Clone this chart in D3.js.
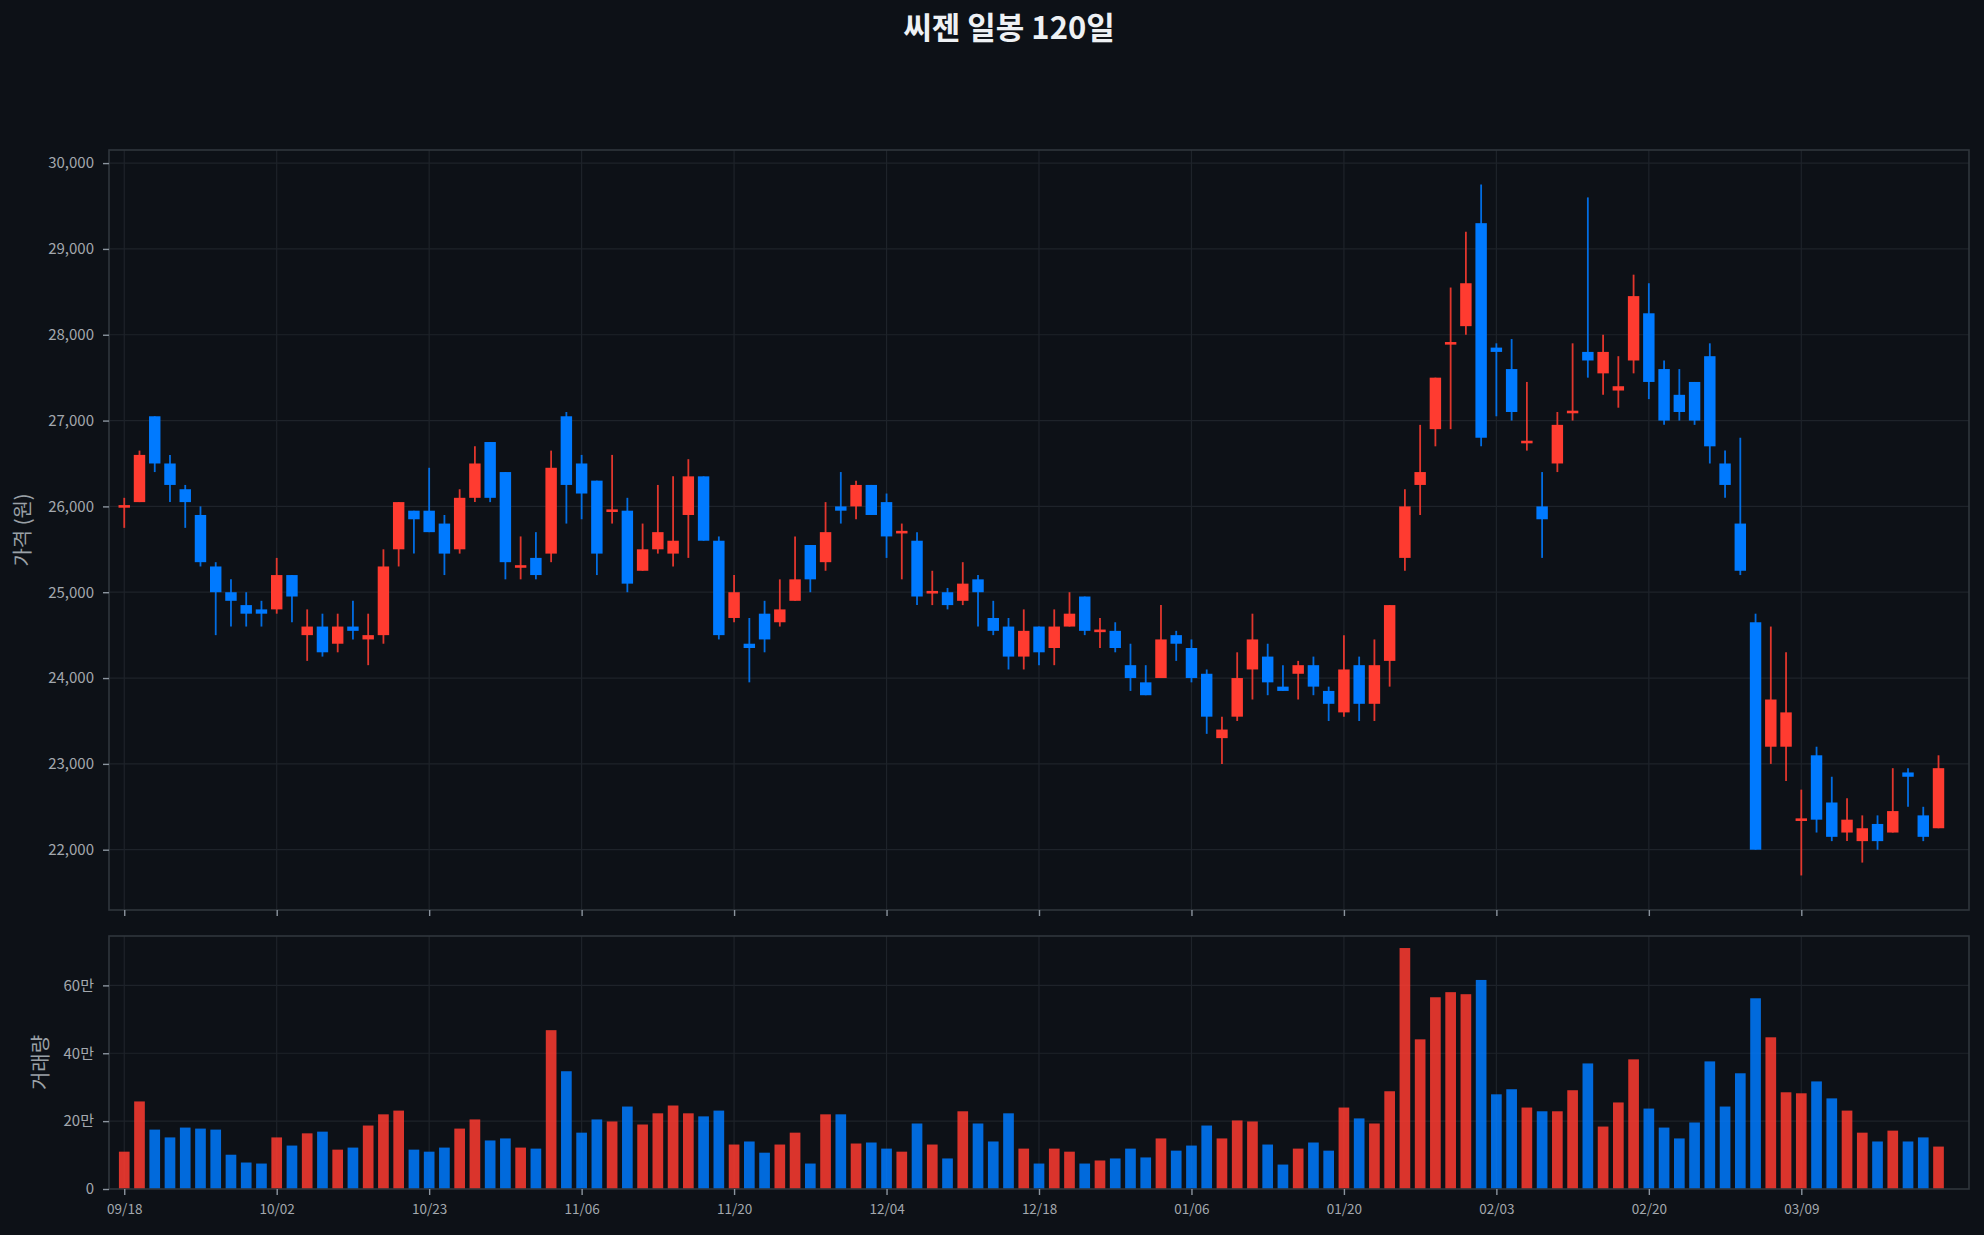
<!DOCTYPE html>
<html><head><meta charset="utf-8">
<script src="https://cdn.jsdelivr.net/npm/d3@7"></script>
<style>
html,body{margin:0;padding:0;background:#0d1117;}
svg{display:block;}
</style></head><body>
<svg id="chart" width="1984" height="1235"></svg>
<script>
const chartTitle = "씨젠 일봉 120일";
const priceLabel = "가격 (원)";
const volumeLabel = "거래량";
const tickLabels = ["09/18","10/02","10/23","11/06","11/20","12/04","12/18","01/06","01/20","02/03","02/20","03/09"];
const tickIndex = [0,10,20,30,40,50,60,70,80,90,100,110];
const priceTicks = [22000,23000,24000,25000,26000,27000,28000,29000,30000];
const volumeTicks = [0,200000,400000,600000];

const opens = [26000,26050,27050,26500,26200,25900,25300,25000,24850,24800,
24800,25200,24500,24600,24400,24600,24450,24500,25500,25950,
25950,25800,25500,26100,26750,26400,25300,25400,25450,27050,
26500,26300,25950,25950,25250,25500,25450,25900,26350,25600,
24700,24400,24750,24650,24900,25550,25350,26000,26000,26250,
26050,25700,25600,25000,25000,24900,25150,24700,24600,24250,
24600,24350,24600,24950,24550,24550,24150,23950,24000,24500,
24350,24050,23300,23550,24100,24250,23900,24050,24150,23850,
23600,24150,23700,24200,25400,26250,26900,27900,28100,29300,
27850,27600,26750,26000,26500,27100,27800,27550,27350,27700,
28250,27600,27300,27450,27750,26500,25800,24650,23200,23200,
22350,23100,22550,22200,22100,22300,22200,22900,22400,22250];
const highs = [26100,26650,27050,26600,26250,26000,25350,25150,25000,24900,
25400,25200,24800,24750,24750,24900,24750,25500,26050,25950,
26450,25900,26200,26700,26750,26400,25650,25700,26650,27100,
26600,26300,26600,26100,25800,26250,26350,26550,26350,25650,
25200,24700,24900,25150,25650,25550,26050,26400,26300,26250,
26150,25800,25700,25250,25050,25350,25200,24900,24700,24800,
24600,24800,25000,24950,24700,24650,24400,24150,24850,24550,
24450,24100,23550,24300,24750,24400,24150,24200,24250,23900,
24500,24250,24450,24850,26200,26950,27500,28550,29200,29750,
27900,27950,27450,26400,27100,27900,29600,28000,27750,28700,
28600,27700,27600,27450,27900,26650,26800,24750,24600,24300,
22700,23200,22850,22600,22400,22400,22950,22950,22500,23100];
const lows = [25750,26050,26400,26050,25750,25300,24500,24600,24600,24600,
24750,24650,24200,24250,24300,24450,24150,24400,25300,25450,
25700,25200,25450,26050,26050,25150,25150,25150,25350,25800,
25850,25200,25800,25000,25250,25450,25300,25400,25600,24450,
24650,23950,24300,24600,24900,25000,25250,25800,25850,25900,
25400,25150,24850,24850,24800,24850,24600,24500,24100,24100,
24150,24150,24600,24500,24350,24300,23850,23800,24000,24200,
23950,23350,23000,23500,23750,23800,23850,23750,23800,23500,
23550,23500,23500,23900,25250,25900,26700,26900,28000,26700,
27050,27000,26650,25400,26400,27000,27500,27300,27150,27550,
27250,26950,27000,26950,26500,26100,25200,22000,23000,22800,
21700,22200,22100,22100,21850,22000,22200,22500,22100,22250];
const closes = [26000,26600,26500,26250,26050,25350,25000,24900,24750,24750,
25200,24950,24600,24300,24600,24550,24500,25300,26050,25850,
25700,25450,26100,26500,26100,25350,25300,25200,26450,26250,
26150,25450,25950,25100,25500,25700,25600,26350,25600,24500,
25000,24350,24450,24800,25150,25150,25700,25950,26250,25900,
25650,25700,24950,25000,24850,25100,25000,24550,24250,24550,
24300,24600,24750,24550,24550,24350,24000,23800,24450,24400,
24000,23550,23400,24000,24450,23950,23850,24150,23900,23700,
24100,23700,24150,24850,26000,26400,27500,27900,28600,26800,
27800,27100,26750,25850,26950,27100,27700,27800,27400,28450,
27450,27000,27100,27000,26700,26250,25250,22000,23750,23600,
22350,22350,22150,22350,22250,22100,22450,22850,22150,22950];
const volumes = [110000,258000,175000,152000,181000,178000,175000,101000,78000,75000,
152000,128000,164000,169000,116000,122000,187000,220000,231000,116000,
110000,122000,178000,205000,143000,149000,122000,119000,468000,347000,
166000,205000,199000,243000,190000,223000,246000,223000,214000,231000,
131000,140000,107000,131000,166000,75000,220000,220000,134000,137000,
119000,110000,193000,131000,90000,229000,193000,140000,223000,119000,
75000,119000,110000,75000,84000,90000,119000,93000,149000,113000,
128000,187000,149000,202000,199000,131000,72000,119000,137000,113000,
240000,208000,193000,288000,710000,441000,565000,580000,574000,616000,
279000,294000,240000,229000,229000,291000,370000,184000,255000,382000,
237000,181000,149000,196000,376000,243000,341000,562000,447000,285000,
282000,317000,267000,231000,166000,140000,172000,140000,152000,125000];

// ---------- layout / style ----------
const W = 1984, H = 1235;
const left = 109, right = 1969;
const pTop = 150, pBot = 910;
const vTop = 936, vBot = 1189;
const BG = "#0d1117", GRID = "#1e232a", FRAME = "#30363d";
const UP = "#ff3b30", DOWN = "#007aff";
const TICKTXT = "#a3a8ae", LABEL = "#9ba1a7", TICKLN = "#8b949e";
const FONT = "'Noto Sans CJK KR','Noto Sans',sans-serif";

const n = closes.length;
const data = d3.range(n).map(i => ({i, o: opens[i], h: highs[i], l: lows[i], c: closes[i], v: volumes[i]}));

const svg = d3.select("#chart");
svg.append("rect").attr("width", W).attr("height", H).attr("fill", BG);

const x = d3.scaleLinear().domain([-1, n + 1]).range([left, right]);
const step = x(1) - x(0);
const lo = d3.min(lows), hi = d3.max(highs), pad = (hi - lo) * 0.05;
const y = d3.scaleLinear().domain([lo - pad, hi + pad]).range([pBot, pTop]);
const yv = d3.scaleLinear().domain([0, d3.max(volumes) * 1.05]).range([vBot, vTop]);

// title
svg.append("text").attr("x", 1009).attr("y", 39).attr("text-anchor", "middle")
  .attr("fill", "#eef1f4").style("font-family", FONT).style("font-size", "31px").style("font-weight", "bold")
  .text(chartTitle);

// grids
function grid(yScale, yTicks, top, bot) {
  const g = svg.append("g");
  g.selectAll("line.h").data(yTicks).join("line")
    .attr("x1", left).attr("x2", right)
    .attr("y1", d => yScale(d)).attr("y2", d => yScale(d))
    .attr("stroke", GRID).attr("stroke-width", 1.2);
  g.selectAll("line.v").data(tickIndex).join("line")
    .attr("x1", d => x(d)).attr("x2", d => x(d))
    .attr("y1", top).attr("y2", bot)
    .attr("stroke", GRID).attr("stroke-width", 1.2);
}
grid(y, priceTicks, pTop, pBot);
grid(yv, volumeTicks.filter(d => d > 0), vTop, vBot);

const col = d => d.c >= d.o ? UP : DOWN;

// candles
const cw = step * 0.75;
const cg = svg.append("g");
cg.selectAll("line").data(data).join("line")
  .attr("x1", d => x(d.i)).attr("x2", d => x(d.i))
  .attr("y1", d => y(d.h)).attr("y2", d => y(d.l))
  .attr("stroke", col).attr("stroke-width", 1.8).attr("stroke-opacity", 0.88);
cg.selectAll("rect").data(data).join("rect")
  .attr("x", d => x(d.i) - cw / 2).attr("width", cw)
  .attr("y", d => {
    const t = y(Math.max(d.o, d.c)), b = y(Math.min(d.o, d.c));
    return (b - t) < 2.6 ? (t + b) / 2 - 1.3 : t;
  })
  .attr("height", d => Math.max(2.6, y(Math.min(d.o, d.c)) - y(Math.max(d.o, d.c))))
  .attr("fill", col);

// volume bars
const vw = step * 0.7;
svg.append("g").selectAll("rect").data(data).join("rect")
  .attr("x", d => x(d.i) - vw / 2).attr("width", vw)
  .attr("y", d => yv(d.v)).attr("height", d => vBot - yv(d.v))
  .attr("fill", col).attr("fill-opacity", 0.85);

// frames
[[pTop, pBot], [vTop, vBot]].forEach(([t, b]) => {
  svg.append("rect").attr("x", left).attr("y", t).attr("width", right - left).attr("height", b - t)
    .attr("fill", "none").attr("stroke", FRAME).attr("stroke-width", 1.6);
});

function styleAxis(g) {
  g.select(".domain").remove();
  g.selectAll(".tick line").attr("stroke", TICKLN).attr("stroke-width", 1.4);
  g.selectAll(".tick text").attr("fill", TICKTXT);
  g.attr("font-family", FONT).attr("font-size", 15);
}

// y axes
svg.append("g").attr("transform", `translate(${left},0)`)
  .call(d3.axisLeft(y).tickValues(priceTicks).tickSize(6).tickPadding(9).tickFormat(d3.format(",")))
  .call(styleAxis);
svg.append("g").attr("transform", `translate(${left},0)`)
  .call(d3.axisLeft(yv).tickValues(volumeTicks).tickSize(6).tickPadding(9)
    .tickFormat(d => d === 0 ? "0" : (d / 10000) + "만"))
  .call(styleAxis);

// x axes
svg.append("g").attr("transform", `translate(0,${pBot})`)
  .call(d3.axisBottom(x).tickValues(tickIndex).tickSize(6).tickFormat(""))
  .call(styleAxis);
svg.append("g").attr("transform", `translate(0,${vBot})`)
  .call(d3.axisBottom(x).tickValues(tickIndex).tickSize(6).tickPadding(9)
    .tickFormat((d, k) => tickLabels[k]))
  .call(g => { styleAxis(g); g.attr("font-size", 13.5); });

// axis labels
svg.append("text").attr("transform", `translate(30,${(pTop + pBot) / 2}) rotate(-90)`)
  .attr("text-anchor", "middle").attr("fill", LABEL)
  .style("font-family", FONT).style("font-size", "20px").text(priceLabel);
svg.append("text").attr("transform", `translate(48,${(vTop + vBot) / 2}) rotate(-90)`)
  .attr("text-anchor", "middle").attr("fill", LABEL)
  .style("font-family", FONT).style("font-size", "20px").text(volumeLabel);
</script>
</body></html>
